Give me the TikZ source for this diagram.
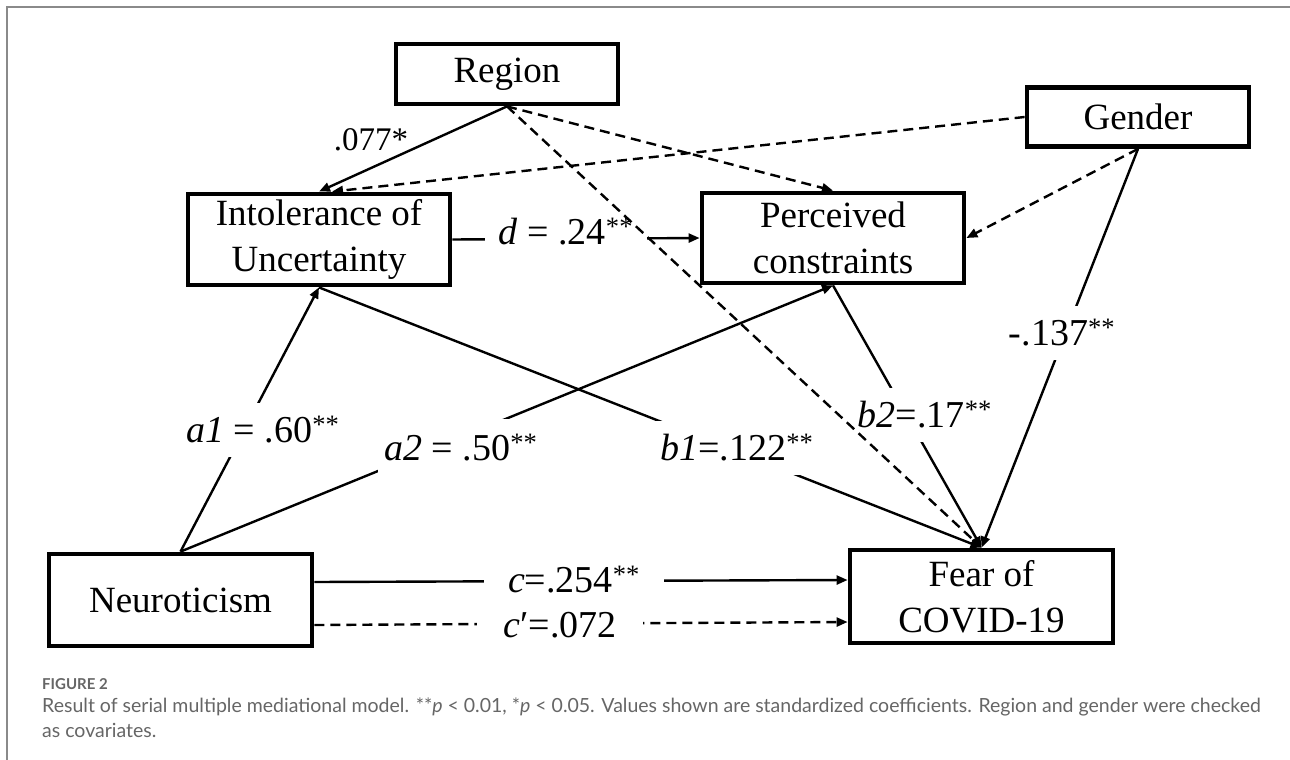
\documentclass[tikz,border=0pt]{standalone}
\usepackage{fontspec}
\setmainfont{Liberation Serif}
\newfontfamily\capfont{Lato}
\usetikzlibrary{arrows.meta,calc}
\definecolor{capgray}{HTML}{666666}
\definecolor{framegray}{HTML}{8A8A8A}
\begin{document}
\begin{tikzpicture}[x=1pt,y=-1pt,
  box/.style={draw, line width=4.8pt, align=center, inner sep=0pt,
    font=\fontsize{37}{46}\selectfont},
  conn/.style={line width=2.4pt, -{Triangle[length=11pt,width=9pt]}},
  dconn/.style={conn, dash pattern=on 10pt off 6pt},
  lbl/.style={fill=white, inner xsep=12pt, inner ysep=10pt,
    font=\fontsize{38}{40}\selectfont},
]
\useasboundingbox (0,0) rectangle (1290,760);
\fill[white] (0,0) rectangle (1290,760);
% frame
\draw[framegray, line width=1.5pt] (1290,7) -- (7,7) -- (7,760);

% boxes
\node[box, minimum width=222pt, minimum height=60pt] (region) at (507,74) {Region};
\node[box, minimum width=222pt, minimum height=59pt] (gender) at (1138,117) {Gender};
\node[box, minimum width=262pt, minimum height=91pt] (iu) at (319,239.5) {Intolerance of\\Uncertainty};
\node[box, minimum width=262pt, minimum height=90pt] (pc) at (833,238) {Perceived\\constraints};
\node[box, minimum width=263pt, minimum height=92pt] (neur) at (180.5,600) {Neuroticism};
\node[box, minimum width=263pt, minimum height=93pt] (fear) at (981.5,596.5) {Fear of\\COVID-19};

% solid connectors
\draw[conn] (region.south) -- (iu.north);
\draw[conn] (iu.east) -- (pc.west);
\draw[conn] (neur.north) -- (iu.south);
\draw[conn] (neur.north) -- (pc.south);
\draw[conn] (iu.south) -- (fear.north);
\draw[conn] (pc.south) -- (fear.north);
\draw[conn] (gender.south) -- (fear.north);
\draw[conn] ($(neur.east)+(0,-18)$) -- ($(fear.west)+(0,-16.5)$);
\draw[dconn] ($(neur.east)+(0,25)$) -- ($(fear.west)+(0,25.5)$);

% labels
\node[font=\fontsize{33}{36}\selectfont] (l077) at (371,140) {.077*};
\node[lbl, inner xsep=14pt] (ld) at (566,232) {\textit{d} = .24\textsuperscript{**}};
\node[lbl, inner ysep=14pt] (la1) at (263,430) {\textit{a1} = .60\textsuperscript{**}};
\node[lbl, inner ysep=16pt, inner xsep=6pt] (la2) at (461,448) {\textit{a2} = .50\textsuperscript{**}};
\node[lbl, inner ysep=14pt, inner xsep=6pt] (lb1) at (737,448) {\textit{b1}=.122\textsuperscript{**}};
\node[lbl, inner ysep=14pt, inner xsep=6pt] (lb2) at (925,415) {\textit{b2}=.17\textsuperscript{**}};
\node[lbl, inner ysep=14pt, inner xsep=4pt] (lg) at (1062,333) {-.137\textsuperscript{**}};
\node[lbl, inner xsep=24pt] (lc) at (574,580) {\textit{c}=.254\textsuperscript{**}};
\node[lbl, inner xsep=26pt] (lcp) at (560,625) {\textit{c}′=.072};

% dashed covariate connectors
\draw[dconn] (gender.west) -- ($(iu.north)+(13,0)$);
\draw[dconn] (region.south) -- (pc.north);
\draw[dconn] (region.south) -- (fear.north);
\draw[dconn] (gender.south) -- (pc.east);

% caption
\node[anchor=base west, inner sep=0pt, text=capgray,
  font=\capfont\bfseries\fontsize{15}{17}\selectfont] (figlbl) at (42,689) {FIGURE 2};
\node[anchor=base west, inner sep=0pt, text=capgray,
  font=\capfont\fontsize{19.5}{23}\selectfont] (cap1) at (42,712)
  {Result of serial multiple mediational model. **\textit{p} < 0.01, *\textit{p} < 0.05. Values shown are standardized coefficients. Region and gender were checked};
\node[anchor=base west, inner sep=0pt, text=capgray,
  font=\capfont\fontsize{19.5}{23}\selectfont] (cap2) at (42,737) {as covariates.};
\end{tikzpicture}
\end{document}
